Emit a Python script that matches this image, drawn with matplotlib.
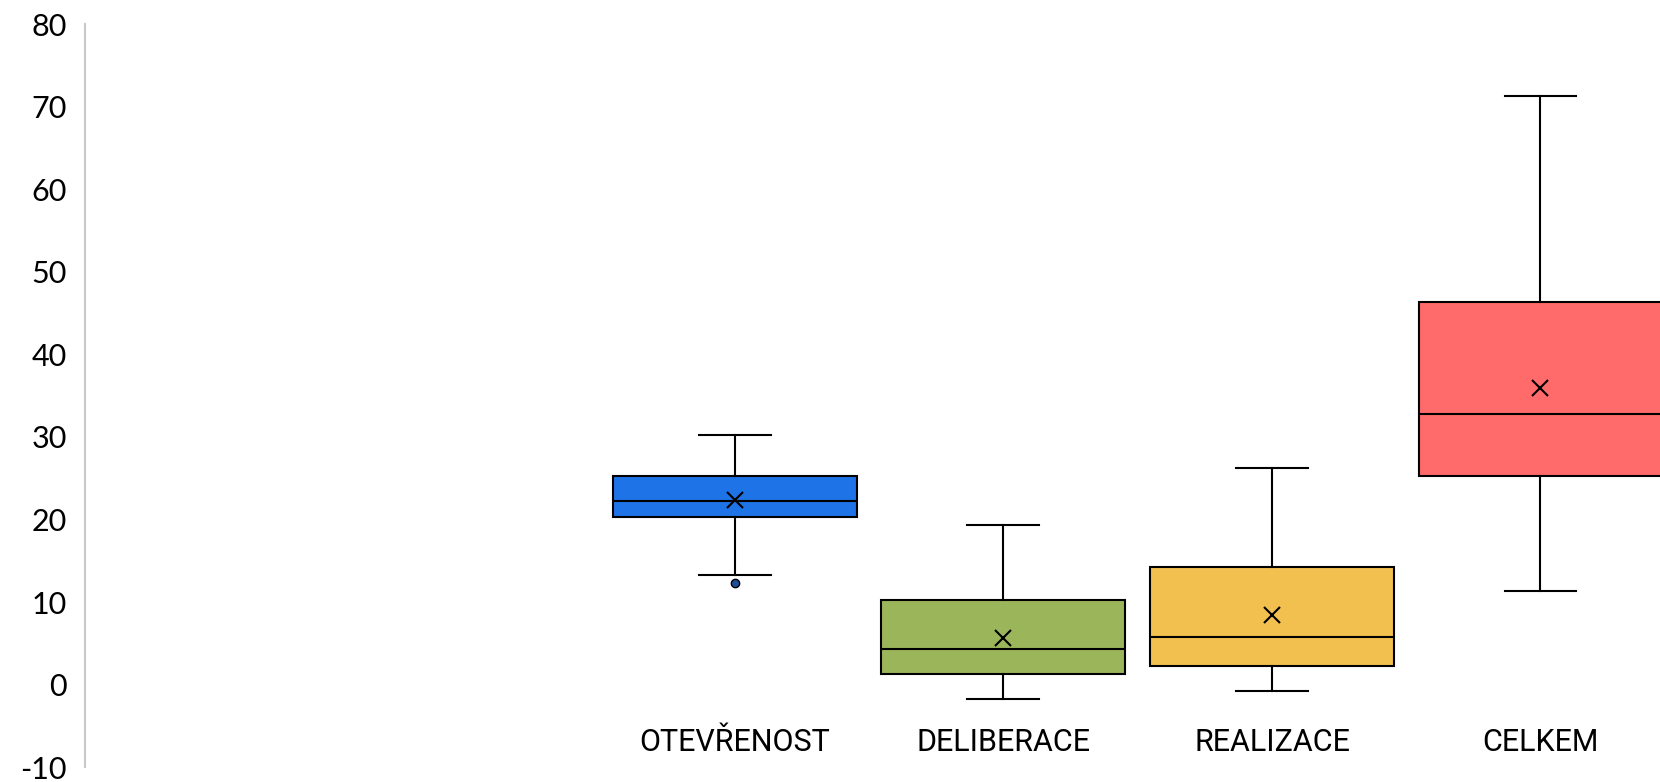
import matplotlib
matplotlib.use('Agg')
import matplotlib.pyplot as plt

plt.rcParams['axes.unicode_minus'] = False

# Hodnoty
kategorie = ['OTEVŘENOST', 'DELIBERACE', 'REALIZACE', 'CELKEM']
q1 = [20.3, 1.3, 2.3, 25.3]
median = [22.3, 4.3, 5.8, 32.8]
q3 = [25.3, 10.3, 14.3, 46.3]
whislo = [13.3, -1.7, -0.7, 11.3]
whishi = [30.3, 19.3, 26.3, 71.3]
prumer = [22.4, 5.7, 8.4, 35.9]
odlehle = [[12.3], [], [], []]
barvy = ['#1E73E6', '#9BB55A', '#F2C04F', '#FF6B6B']

stats = []
for i in range(len(kategorie)):
    stats.append({'q1': q1[i], 'med': median[i], 'q3': q3[i],
                  'whislo': whislo[i], 'whishi': whishi[i],
                  'mean': prumer[i], 'fliers': odlehle[i], 'label': kategorie[i]})

pozice = list(range(len(kategorie)))

fig = plt.figure(figsize=(16.6, 7.82), dpi=100)
ax = fig.add_axes([0.0512, 0.0187, 0.9488, 0.9506])

bp = ax.bxp(stats, positions=pozice, widths=0.908, capwidths=0.268,
            patch_artist=True, showmeans=True,
            boxprops=dict(linewidth=1.5, edgecolor='black'),
            medianprops=dict(color='black', linewidth=1.5),
            whiskerprops=dict(color='black', linewidth=1.5),
            capprops=dict(color='black', linewidth=1.5),
            meanprops=dict(marker='x', markeredgecolor='black', markersize=11,
                           markeredgewidth=1.5),
            flierprops=dict(marker='o', markerfacecolor='#1F4E9A',
                            markeredgecolor='black', markersize=6))
for patch, c in zip(bp['boxes'], barvy):
    patch.set_facecolor(c)

ax.set_xlim(-2.42, 3.445)
ax.set_ylim(-10, 80)
ax.set_yticks(range(-10, 81, 10))
ax.set_xticks([])
ax.tick_params(axis='y', length=0, pad=13, labelsize=22, labelcolor='black')
for lab in ax.get_yticklabels():
    lab.set_family(['Lato', 'DejaVu Sans'])

for s in ['top', 'right', 'bottom']:
    ax.spines[s].set_visible(False)
ax.spines['left'].set_color('#C8C8C8')
ax.spines['left'].set_linewidth(1.5)

for p, k in zip(pozice, kategorie):
    ax.text(p, -7.0, k, ha='center', va='center', fontsize=22,
            family=['Roboto', 'DejaVu Sans'])

fig.savefig('out.png', dpi=100)
